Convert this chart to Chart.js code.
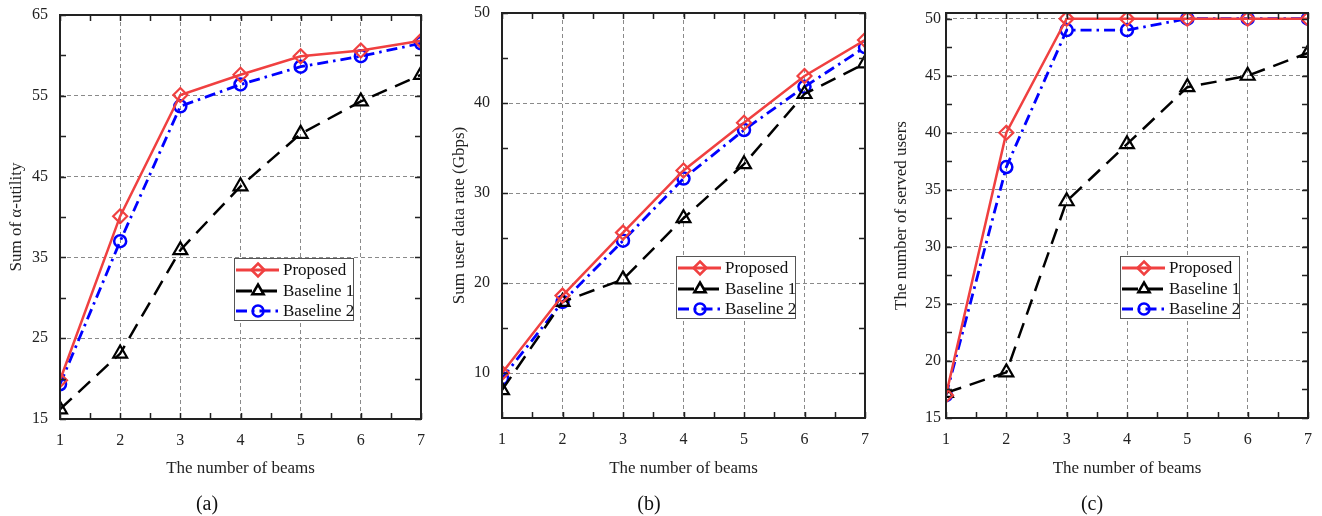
<!DOCTYPE html>
<html><head><meta charset="utf-8">
<script src="https://cdn.jsdelivr.net/npm/chart.js@4.4.0/dist/chart.umd.min.js"></script>
<style>
html,body{margin:0;padding:0;background:#fff;}
#wrap{position:relative;width:1322px;height:516px;overflow:hidden;}
canvas{position:absolute;top:0;}
</style></head><body>
<div id="wrap">
<canvas id="ca" width="440" height="516" style="left:0px"></canvas>
<canvas id="cb" width="440" height="516" style="left:440px"></canvas>
<canvas id="cc" width="442" height="516" style="left:880px"></canvas>
</div>
<script>
// ---------------- data ----------------
const beams = [1, 2, 3, 4, 5, 6, 7];
const seriesNames = ['Proposed', 'Baseline 1', 'Baseline 2'];

const utilProposed  = [19.8, 40.1, 55.1, 57.6, 59.9, 60.6, 61.8];
const utilBaseline1 = [16.2, 23.1, 35.9, 43.8, 50.3, 54.3, 57.6];
const utilBaseline2 = [19.3, 37.0, 53.7, 56.4, 58.6, 59.9, 61.5];

const rateProposed  = [10.0, 18.6, 25.6, 32.5, 37.8, 43.0, 47.0];
const rateBaseline1 = [8.1, 17.9, 20.4, 27.2, 33.2, 41.0, 44.4];
const rateBaseline2 = [9.4, 17.9, 24.7, 31.6, 37.0, 41.8, 46.2];

const usersProposed  = [17.0, 40, 50, 50, 50, 50, 50];
const usersBaseline1 = [17.2, 19, 34, 39, 44, 45, 47];
const usersBaseline2 = [17.0, 37, 49, 49, 50, 50, 50];

const xTicks = [1, 2, 3, 4, 5, 6, 7];
const utilTicks = [15, 25, 35, 45, 55, 65];
const rateTicks = [10, 20, 30, 40, 50];
const usersTicks = [15, 20, 25, 30, 35, 40, 45, 50];

const xTitle = 'The number of beams';
const captions = ['(a)', '(b)', '(c)'];
const yTitles = ['Sum of α-utility', 'Sum user data rate (Gbps)', 'The number of served users'];

// ---------------- styles ----------------
const FONT = "'Liberation Serif', 'Times New Roman', serif";
const RED = 'rgb(240,64,64)';
const BLACK = '#000000';
const BLUE = '#0000ff';

function pts(ys) { return beams.map((b, i) => ({x: b, y: ys[i]})); }

function makeDatasets(p, b1, b2) {
  return [
    {label: seriesNames[0], data: pts(p), borderColor: RED, borderWidth: 2.5, borderDash: [],
     pointStyle: 'rectRot', pointRadius: 7, pointBorderWidth: 2.2, pointBorderColor: RED,
     pointBackgroundColor: 'rgba(0,0,0,0)', tension: 0, clip: 0},
    {label: seriesNames[1], data: pts(b1), borderColor: BLACK, borderWidth: 2.5, borderDash: [16, 9],
     pointStyle: 'triangle', pointRadius: 8, pointBorderWidth: 2.2, pointBorderColor: BLACK,
     pointBackgroundColor: 'rgba(0,0,0,0)', tension: 0, clip: 0},
    {label: seriesNames[2], data: pts(b2), borderColor: BLUE, borderWidth: 2.8, borderDash: [11, 5, 2.5, 5],
     pointStyle: 'circle', pointRadius: 6, pointBorderWidth: 2.5, pointBorderColor: BLUE,
     pointBackgroundColor: 'rgba(0,0,0,0)', tension: 0, clip: 0}
  ];
}

// frame with inward major + minor ticks on all four sides
const frameTicks = {
  id: 'frameTicks',
  afterDatasetsDraw(chart) {
    const {ctx, chartArea: {left, right, top, bottom}, scales: {x, y}} = chart;
    const withMinor = arr => {
      const out = [];
      for (let i = 0; i < arr.length; i++) {
        out.push(arr[i]);
        if (i < arr.length - 1) out.push((arr[i] + arr[i + 1]) / 2);
      }
      return out;
    };
    const xv = withMinor(x.ticks.map(t => t.value));
    const yv = withMinor(y.ticks.map(t => t.value));
    const L = 6;
    ctx.save();
    ctx.strokeStyle = '#222';
    ctx.lineWidth = 1.5;
    ctx.setLineDash([]);
    ctx.beginPath();
    xv.forEach(v => {
      const p = Math.round(x.getPixelForValue(v)) + 0.5;
      ctx.moveTo(p, bottom); ctx.lineTo(p, bottom - L);
      ctx.moveTo(p, top); ctx.lineTo(p, top + L);
    });
    yv.forEach(v => {
      const p = Math.round(y.getPixelForValue(v)) + 0.5;
      ctx.moveTo(left, p); ctx.lineTo(left + L, p);
      ctx.moveTo(right, p); ctx.lineTo(right - L, p);
    });
    ctx.stroke();
    ctx.lineWidth = 2;
    ctx.strokeRect(left, top, right - left, bottom - top);
    ctx.restore();
  }
};

function drawMarker(ctx, style, cx, cy, r) {
  ctx.beginPath();
  if (style === 'rectRot') {
    ctx.moveTo(cx, cy - r); ctx.lineTo(cx + r, cy); ctx.lineTo(cx, cy + r); ctx.lineTo(cx - r, cy); ctx.closePath();
  } else if (style === 'triangle') {
    const h = r * 1.5;
    ctx.moveTo(cx, cy - h * 2 / 3); ctx.lineTo(cx + r * 0.87, cy + h / 3); ctx.lineTo(cx - r * 0.87, cy + h / 3); ctx.closePath();
  } else {
    ctx.arc(cx, cy, r, 0, Math.PI * 2);
  }
  ctx.stroke();
}

// boxed legend inside the plot area
const boxLegend = {
  id: 'boxLegend',
  afterDraw(chart, args, opts) {
    const {ctx, chartArea} = chart;
    const bx = chartArea.left + opts.dx, by = chartArea.top + opts.dy;
    ctx.save();
    ctx.fillStyle = '#fff';
    ctx.fillRect(bx, by, opts.w, opts.h);
    ctx.strokeStyle = '#555';
    ctx.lineWidth = 1;
    ctx.setLineDash([]);
    ctx.strokeRect(bx + 0.5, by + 0.5, opts.w, opts.h);
    chart.data.datasets.forEach((ds, i) => {
      const cy = by + opts.rows[i];
      ctx.strokeStyle = ds.borderColor;
      ctx.lineWidth = 3;
      ctx.setLineDash(ds.borderDash);
      ctx.beginPath();
      ctx.moveTo(bx + 2, cy); ctx.lineTo(bx + 45, cy);
      ctx.stroke();
      ctx.setLineDash([]);
      ctx.lineWidth = 2.5;
      drawMarker(ctx, ds.pointStyle, bx + 24, cy, ds.pointStyle === 'circle' ? 5.5 : 6.5);
      ctx.fillStyle = '#111';
      ctx.font = '17px ' + FONT;
      ctx.textBaseline = 'middle';
      ctx.textAlign = 'left';
      ctx.fillText(ds.label, bx + 49, cy + 1);
    });
    ctx.restore();
  }
};

const caption = {
  id: 'caption',
  afterDraw(chart, args, opts) {
    const {ctx} = chart;
    ctx.save();
    ctx.fillStyle = '#111';
    ctx.font = '20px ' + FONT;
    ctx.textAlign = 'center';
    ctx.textBaseline = 'middle';
    ctx.fillText(opts.text, opts.x, opts.y);
    ctx.restore();
  }
};

function makeChart(id, datasets, cfg) {
  const canvas = document.getElementById(id);
  return new Chart(canvas, {
    type: 'line',
    data: {datasets},
    options: {
      responsive: false,
      animation: false,
      events: [],
      layout: {padding: {left: 0, right: cfg.padRight, top: cfg.padTop, bottom: 0}},
      plugins: {
        legend: {display: false},
        tooltip: {enabled: false},
        boxLegend: {dx: 174, dy: 243, w: 119, h: 62, rows: [12, 33, 53]},
        caption: {text: cfg.caption, x: cfg.capX, y: 505}
      },
      scales: {
        x: {
          type: 'linear', min: 1, max: 7,
          afterBuildTicks: s => { s.ticks = xTicks.map(v => ({value: v})); },
          afterFit: s => { s.height = 516 - cfg.bottom; s.paddingLeft = 0; s.paddingRight = 0; },
          grid: {color: '#8a8a8a', lineWidth: 1, drawTicks: false},
          border: {display: false, dash: [4, 3]},
          ticks: {padding: 12, color: '#222', font: {family: FONT, size: 16}, maxRotation: 0},
          title: {display: true, text: xTitle, color: '#222', font: {family: FONT, size: 17},
                  padding: {top: 0, bottom: 37}}
        },
        y: {
          type: 'linear', min: cfg.yMin, max: cfg.yMax,
          afterBuildTicks: s => { s.ticks = cfg.yTicks.map(v => ({value: v})); },
          afterFit: s => { s.width = cfg.left; s.paddingTop = 0; s.paddingBottom = 0; },
          grid: {color: '#8a8a8a', lineWidth: 1, drawTicks: false},
          border: {display: false, dash: [4, 3]},
          ticks: {padding: cfg.tickPad, color: '#222', font: {family: FONT, size: 16}},
          title: {display: true, text: cfg.yTitle, color: '#222', font: {family: FONT, size: 17},
                  padding: {top: cfg.titlePad, bottom: 0}}
        }
      }
    },
    plugins: [frameTicks, boxLegend, caption]
  });
}

makeChart('ca', makeDatasets(utilProposed, utilBaseline1, utilBaseline2), {
  left: 60, padRight: 19, padTop: 15, bottom: 419, yMin: 15, yMax: 65, yTicks: utilTicks,
  tickPad: 12, titlePad: 6, yTitle: yTitles[0], caption: captions[0], capX: 207
});
makeChart('cb', makeDatasets(rateProposed, rateBaseline1, rateBaseline2), {
  left: 62, padRight: 15, padTop: 13, bottom: 418, yMin: 5, yMax: 50, yTicks: rateTicks,
  tickPad: 12, titlePad: 9, yTitle: yTitles[1], caption: captions[1], capX: 209
});
makeChart('cc', makeDatasets(usersProposed, usersBaseline1, usersBaseline2), {
  left: 66, padRight: 14, padTop: 13, bottom: 418, yMin: 15, yMax: 50.5, yTicks: usersTicks,
  tickPad: 5, titlePad: 11, yTitle: yTitles[2], caption: captions[2], capX: 212
});
</script>
</body></html>
